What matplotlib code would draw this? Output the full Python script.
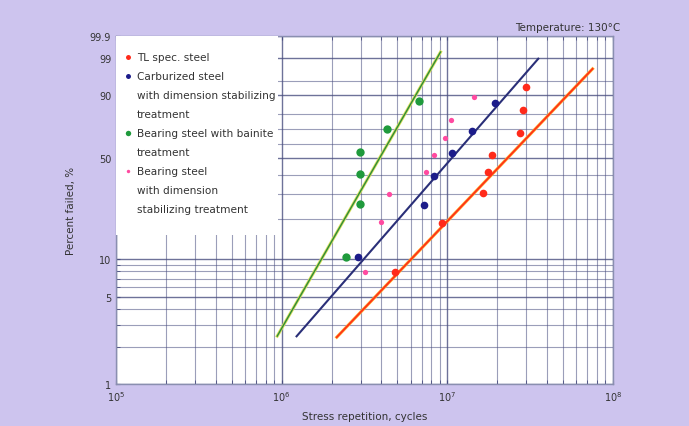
import numpy as np
import matplotlib
matplotlib.use("Agg")
import matplotlib.pyplot as plt
from matplotlib.patches import Rectangle

# ---- data ----
tl_x = [3.0e7, 2.87e7, 2.74e7, 1.87e7, 1.76e7, 1.65e7, 9.25e6, 4.83e6]
tl_y = [92.8, 82.1, 67.1, 52.3, 41.4, 30.3, 18.6, 7.9]

carb_x = [1.94e7, 1.41e7, 1.06e7, 8.3e6, 7.2e6, 2.9e6]
carb_y = [85.8, 68.9, 53.4, 39.4, 25.3, 10.4]

bain_x = [6.75e6, 4.3e6, 2.95e6, 2.95e6, 2.95e6, 2.44e6]
bain_y = [86.8, 70.0, 54.0, 40.4, 25.5, 10.4]

stab_x = [1.45e7, 1.05e7, 9.7e6, 8.3e6, 7.4e6, 4.46e6, 3.97e6, 3.18e6]
stab_y = [88.8, 76.2, 63.6, 52.3, 41.4, 30.0, 19.1, 7.9]

# fitted lines (end points)
fit_bain_x = [9.4e5, 9.1e6]
fit_bain_y = [2.44, 99.4]
fit_carb_x = [1.23e6, 3.54e7]
fit_carb_y = [2.43, 98.9]
fit_tl_x = [2.15e6, 7.53e7]
fit_tl_y = [2.39, 97.6]

y_major = [1, 5, 10, 50, 90, 99, 99.9]
y_major_labels = ["1", "5", "10", "50", "90", "99", "99.9"]
y_minor = [2, 3, 4, 6, 7, 8, 9, 20, 30, 40, 60, 70, 80, 95]
x_major = [1e5, 1e6, 1e7, 1e8]
x_major_labels = [r"$10^5$", r"$10^6$", r"$10^7$", r"$10^8$"]

labels = ["TL spec. steel",
          "Carburized steel\nwith dimension stabilizing\ntreatment",
          "Bearing steel with bainite\ntreatment",
          "Bearing steel\nwith dimension\nstabilizing treatment"]
colors = ["#ff2a1a", "#1c1c8a", "#1f9a3c", "#ff4aa0"]
sizes = [5.5, 5.5, 6.0, 3.8]

# ---- Weibull probability scale ----
def fwd(p):
    p = np.clip(np.asarray(p, dtype=float), 1e-6, 100 - 1e-6)
    return np.log(-np.log(1 - p / 100.0))

def inv(u):
    u = np.asarray(u, dtype=float)
    return 100.0 * (1 - np.exp(-np.exp(u)))

bg = "#cdc4ee"
fig = plt.figure(figsize=(6.89, 4.27), dpi=100, facecolor=bg)
ax = fig.add_axes([116/689, 1 - 385/427, (613 - 116)/689, (385 - 37)/427])
ax.set_facecolor("white")
ax.set_xscale("log")
ax.set_yscale("function", functions=(fwd, inv))
ax.set_xlim(1e5, 1e8)
ax.set_ylim(1, 99.9)

ax.set_yticks(y_major)
ax.set_yticklabels(y_major_labels)
ax.set_yticks(y_minor, minor=True)
ax.yaxis.set_minor_formatter(plt.NullFormatter())
ax.set_xticks(x_major)
ax.set_xticklabels(x_major_labels)

gcol = "#4a4f80"
ax.grid(True, which="major", color=gcol, lw=1.0, alpha=0.8)
ax.grid(True, which="minor", color=gcol, lw=0.8, alpha=0.55)
ax.tick_params(which="both", direction="in", color=gcol, labelsize=7,
               labelcolor="#333333", length=3, top=True, right=False)
for s in ax.spines.values():
    s.set_color("#8a8fb0")
    s.set_linewidth(1.0)

# fit lines
ax.plot(fit_bain_x, fit_bain_y, color="#d8e05a", lw=2.2, zorder=3)
ax.plot(fit_bain_x, fit_bain_y, color="#2e8b3a", lw=1.0, zorder=3)
ax.plot(fit_carb_x, fit_carb_y, color="#2a2f78", lw=1.5, zorder=3)
ax.plot(fit_tl_x, fit_tl_y, color="#ffb030", lw=2.2, zorder=3)
ax.plot(fit_tl_x, fit_tl_y, color="#ff3218", lw=1.3, zorder=3)

# points
series = [(tl_x, tl_y), (carb_x, carb_y), (bain_x, bain_y), (stab_x, stab_y)]
for (xs, ys), c, ms in zip(series, colors, sizes):
    ax.plot(xs, ys, "o", color=c, ms=ms, mec="none", zorder=4)

# legend box (white, covering the grid in the upper-left corner)
ax.add_patch(Rectangle((0, 0.428), 0.326, 0.572, transform=ax.transAxes,
                       facecolor="white", edgecolor="none", zorder=5))
line_h = 19 / 348.0
y0 = 1 - (58 - 37) / 348.0
k = 0
for lab, c, ms in zip(labels, colors, sizes):
    ax.plot([0.024], [y0 - k * line_h], "o", color=c, ms=ms * 0.65, mec="none",
            transform=ax.transAxes, zorder=6, clip_on=False)
    for ln in lab.split("\n"):
        ax.text(0.042, y0 - k * line_h, ln, transform=ax.transAxes, ha="left",
                va="center", fontsize=7.6, color="#333333", zorder=7)
        k += 1

ax.set_ylabel("Percent failed, %", fontsize=7.5, color="#333333", labelpad=10)
ax.set_xlabel("Stress repetition, cycles", fontsize=7.5, color="#333333", labelpad=6)
fig.text(620/689, 1 - 28/427, "Temperature: 130\u00b0C", ha="right", va="center",
         fontsize=7.5, color="#333333")

fig.savefig("out.png", dpi=100, facecolor=bg)
